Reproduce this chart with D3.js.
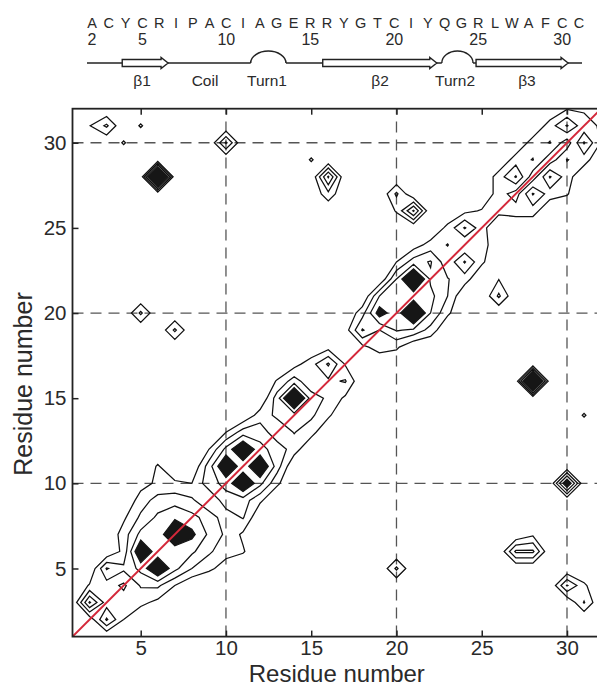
<!DOCTYPE html>
<html>
<head>
<meta charset="utf-8">
<script src="https://cdn.jsdelivr.net/npm/d3@7"></script>
<style>
  body { margin: 0; background: #fff; }
  svg text { font-family: "Liberation Sans", Arial, sans-serif; fill: #2a2a2a; }
</style>
</head>
<body>
<svg id="chart" width="597" height="686"></svg>
<script>
// sequence header
const sequence = ["A","C","Y","C","R","I","P","A","C","I","A","G","E","R","R","Y","G","T","C","I","Y","Q","G","R","L","W","A","F","C","C"];
const seqStart = 2;
const seqNumbers = [2, 5, 10, 15, 20, 25, 30];

// secondary structure (residue units)
const strandStart = [3.8, 15.74, 24.87];
const strandEnd = [6.53, 22.53, 30.35];
const turnStart = [11.45, 22.83];
const turnEnd = [13.55, 24.69];
const structLabels = ["β1", "Coil", "Turn1", "β2", "Turn2", "β3"];
const structLabelAt = [4.98, 8.73, 12.42, 19.15, 23.62, 27.9];

// axes
const axisTicks = [5, 10, 15, 20, 25, 30];
const gridTicks = [10, 20, 30];
const levels = [1, 2, 3];
const darkLevel = 4;

// contact map: [x residue, y residue, intensity]
const offDiagonal = [
  [3,31,2.2],[2,31,0.95],[5,31,1.12],[4,30,1.12],[10,30,3.15],[6,28,10],
  [5,20,2.2],[7,19,2.2],[6,11,1.12],[11,6,1.12],[15,29,1.12],[16,28,4.15],
  [16,27,1.7],[20,27,2.2],[21,26,4.15],[20,26,1.1],[26,21,2.2],[26,22,0.97],
  [28,16,10],[31,14,1.12],[30,10,5.3],[27,6,3.2],[28,6,3.2],[28,7,0.8],
  [20,5,2.2],[30,4,3.1],[31,3,2.08],[31,4,1.2]
];
const cluster1 = [
  [2,3,4.15],[3,2,3.15],[2,2,0.3],[3,3,1.5],[4,4,0.8],[3,4,1.5],[4,3,1.5],[2,4,1.1],
  [3,5,3.1],[5,4,2.1],[5,3,1.3],[4,2,1.0],[6,4,2.2],[4,5,2.2],[4,6,1.3],
  [5,6,5.4],[6,5,5.4],[5,5,3.3],[6,6,3.3],[6,7,3.3],[7,6,3.3],[7,7,5.4],
  [7,8,3.8],[6,8,3.2],[6,9,2.4],[5,8,2.2],[5,9,1.5],[7,9,2.6],[4,8,0.8],[4,7,1.5],
  [5,7,3.3],[6,10,1.2],[7,10,1.2],[8,8,3.3],[8,9,2.2],[8,10,1.0],[5,10,0.6],
  [8,7,4.3],[9,7,2.8],[8,6,3.2],[9,6,2.2],[10,6,1.3],[10,7,1.8],[8,5,2],[7,5,3.3],
  [7,4,1.0],[9,5,1.2],[10,5,0.6],[11,7,0.8],[9,8,2.6],[10,8,1.4],[6,3,0.7]
];
const cluster2 = [
  [10,11,5.4],[11,12,5.4],[12,11,5.4],[11,10,5.4],
  [10,10,3.3],[11,11,3.3],[12,12,3.3],[10,12,3.3],[12,10,3.3],
  [9,11,2.5],[11,13,2.5],[13,11,2.5],[11,9,2.5],[9,10,2.6],[10,9,2.6],
  [9,9,1.0],[11,8,2.1],[12,9,1.2],[12,13,2.6],[13,12,2.6],[13,13,1.3],[14,13,2.05],
  [10,13,1.0],[9,12,1.0],[13,10,1.2],[12,14,1.5],[14,12,1.5],
  [14,15,6.5],[14,14,2.5],[15,15,2.5],[13,15,2.5],[14,16,2.5],[13,14,2.2],[15,14,2.2],
  [15,13,1.4],[16,14,1.2],[15,16,1.2],[16,16,1.8],[16,17,3.15],[17,16,2.1],[15,17,1.6],
  [16,15,1.8],[17,17,0.9],[13,16,1.1],[16,18,0.6],[17,15,0.8],[14,17,0.6]
];
const cluster3 = [
  [21,22,6.2],[21,20,6.2],[19,20,4.6],[21,21,3.3],[20,21,3.3],[22,21,3.3],[20,20,3.3],
  [20,22,3.0],[22,22,2.8],[22,20,3.0],[21,19,2.8],[21,23,2.5],[19,21,3.0],[19,19,2.0],
  [18,19,3.1],[18,20,1.6],[18,18,0.7],[17,19,0.5],[19,18,1.5],[20,18,1.2],[20,19,3.1],
  [22,19,1.6],[23,20,1.2],[23,21,2.0],[20,23,1.0],[22,23,3.1],[23,22,2.05],[23,23,1.3],
  [24,22,1.5],[24,23,3.1],[22,24,1.4],[23,24,2.05],[24,24,1.0],[25,24,1.6],[25,23,1.2],
  [24,25,3.1],[23,25,1.3],[25,25,1.4],[24,26,0.7],[21,24,0.5]
];
const cluster4 = [
  [26,26,1.3],[27,27,0.5],[28,28,0.4],[29,29,0.4],[30,30,0.4],[31,31,1.3],
  [27,28,3.1],[28,27,3.1],[29,28,3.1],[30,31,3.1],[31,30,3.1],
  [28,29,2.05],[29,30,2.05],[30,29,2.05],
  [26,27,1.5],[27,26,1.5],[28,26,1.5],[29,27,1.5],[27,29,1.5],[28,30,1.5],
  [29,31,1.5],[30,28,1.5],[31,29,1.5],[26,28,1.5],[25,26,1.1],[30,27,1.1],
  [30,32,0.9],[32,30,0.9],[32,31,0.9],[31,32,0.9]
];

const svg = d3.select("#chart");

// ---- header ----
const hx = d3.scaleLinear().domain([2, 31]).range([92, 579]);
const header = svg.append("g");

header.selectAll("text.seq")
  .data(sequence)
  .enter().append("text")
  .attr("class", "seq")
  .attr("x", (d, i) => hx(seqStart + i))
  .attr("y", 27.5)
  .attr("text-anchor", "middle")
  .style("font-size", "14.5px")
  .text(d => d);

header.selectAll("text.num")
  .data(seqNumbers)
  .enter().append("text")
  .attr("class", "num")
  .attr("x", d => hx(d))
  .attr("y", 45)
  .attr("text-anchor", "middle")
  .style("font-size", "16px")
  .text(d => d);

const lineY = 63;
header.append("line")
  .attr("x1", hx(1.7)).attr("x2", hx(31.18))
  .attr("y1", lineY).attr("y2", lineY)
  .attr("stroke", "#222").attr("stroke-width", 1.5);

// turns as arcs
turnStart.forEach((s, i) => {
  const x0 = hx(s), x1 = hx(turnEnd[i]);
  const rx = (x1 - x0) / 2;
  header.append("line")
    .attr("x1", x0).attr("x2", x1).attr("y1", lineY).attr("y2", lineY)
    .attr("stroke", "#fff").attr("stroke-width", 3);
  header.append("path")
    .attr("d", `M${x0},${lineY} A${rx},12 0 0 1 ${x1},${lineY}`)
    .attr("fill", "none").attr("stroke", "#222").attr("stroke-width", 1.5);
});

// strands as arrows
strandStart.forEach((s, i) => {
  const x0 = hx(s), x1 = hx(strandEnd[i]);
  const xh = x1 - 7;
  const p = d3.path();
  p.moveTo(x0, lineY - 3.5);
  p.lineTo(xh, lineY - 3.5);
  p.lineTo(xh, lineY - 5.5);
  p.lineTo(x1, lineY);
  p.lineTo(xh, lineY + 5.5);
  p.lineTo(xh, lineY + 3.5);
  p.lineTo(x0, lineY + 3.5);
  p.closePath();
  header.append("path")
    .attr("d", p.toString())
    .attr("fill", "#fff").attr("stroke", "#222").attr("stroke-width", 1.4);
});

header.selectAll("text.lab")
  .data(structLabels)
  .enter().append("text")
  .attr("class", "lab")
  .attr("x", (d, i) => hx(structLabelAt[i]))
  .attr("y", 86)
  .attr("text-anchor", "middle")
  .style("font-size", "15.5px")
  .text(d => d);

// ---- contact map ----
const x = d3.scaleLinear().domain([1, 32]).range([72.5, 601.1]);
const y = d3.scaleLinear().domain([1, 32]).range([636.6, 108.7]);

svg.append("clipPath").attr("id", "plot-clip")
  .append("rect")
  .attr("x", x(1)).attr("y", y(32))
  .attr("width", x(32) - x(1)).attr("height", y(1) - y(32));

const plot = svg.append("g").attr("clip-path", "url(#plot-clip)");

// dashed grid
plot.selectAll("line.gx")
  .data(gridTicks)
  .enter().append("line")
  .attr("x1", d => x(d)).attr("x2", d => x(d))
  .attr("y1", y(1)).attr("y2", y(32))
  .attr("stroke", "#555").attr("stroke-width", 1.3)
  .attr("stroke-dasharray", "11,7");

plot.selectAll("line.gy")
  .data(gridTicks)
  .enter().append("line")
  .attr("x1", x(1)).attr("x2", x(32))
  .attr("y1", d => y(d)).attr("y2", d => y(d))
  .attr("stroke", "#555").attr("stroke-width", 1.3)
  .attr("stroke-dasharray", "11,7");

// grid of intensities, index k = residue k (0..33)
const n = 34;
const values = new Array(n * n).fill(0);
[offDiagonal, cluster1, cluster2, cluster3, cluster4].forEach(list => {
  list.forEach(([rx, ry, v]) => { values[ry * n + rx] = v; });
});

const proj = d3.geoTransform({
  point: function(cx, cy) { this.stream.point(x(cx - 0.5), y(cy - 0.5)); }
});
const path = d3.geoPath(proj);

const contours = d3.contours().size([n, n]).thresholds(levels)(values);
const dark = d3.contours().size([n, n]).thresholds([darkLevel])(values);

plot.selectAll("path.dark")
  .data(dark)
  .enter().append("path")
  .attr("class", "dark")
  .attr("d", path)
  .attr("fill", "#161616")
  .attr("stroke", "#161616")
  .attr("stroke-width", 1.2);

plot.selectAll("path.contour")
  .data(contours)
  .enter().append("path")
  .attr("class", "contour")
  .attr("d", path)
  .attr("fill", "none")
  .attr("stroke", "#111")
  .attr("stroke-width", 1.25);

// diagonal
plot.append("path")
  .datum([1, 32])
  .attr("d", d3.line().x(d => x(d)).y(d => y(d)))
  .attr("stroke", "#d4283a")
  .attr("stroke-width", 2);

// ---- axes ----
const axisB = svg.append("g")
  .attr("transform", `translate(0,${y(1)})`)
  .call(d3.axisBottom(x).tickValues(axisTicks).tickSize(-6).tickPadding(4));
const axisT = svg.append("g")
  .attr("transform", `translate(0,${y(32)})`)
  .call(d3.axisTop(x).tickValues(axisTicks).tickSize(-6).tickFormat(""));
const axisL = svg.append("g")
  .attr("transform", `translate(${x(1)},0)`)
  .call(d3.axisLeft(y).tickValues(axisTicks).tickSize(-6).tickPadding(6));

[axisB, axisT, axisL].forEach(a => {
  a.select(".domain").remove();
  a.selectAll(".tick line").attr("stroke", "#222").attr("stroke-width", 1.5);
  a.selectAll(".tick text")
    .style("font-family", "'Liberation Sans', Arial, sans-serif")
    .style("font-size", "20.5px")
    .attr("fill", "#2a2a2a");
});

svg.append("rect")
  .attr("x", x(1)).attr("y", y(32))
  .attr("width", x(32) - x(1)).attr("height", y(1) - y(32))
  .attr("fill", "none").attr("stroke", "#222").attr("stroke-width", 1.8);

svg.append("text")
  .attr("x", (x(1) + x(32)) / 2)
  .attr("y", 681.5)
  .attr("text-anchor", "middle")
  .style("font-size", "24px")
  .text("Residue number");

svg.append("text")
  .attr("transform", "translate(32,384) rotate(-90)")
  .attr("text-anchor", "middle")
  .style("font-size", "25px")
  .text("Residue number");
</script>
</body>
</html>
